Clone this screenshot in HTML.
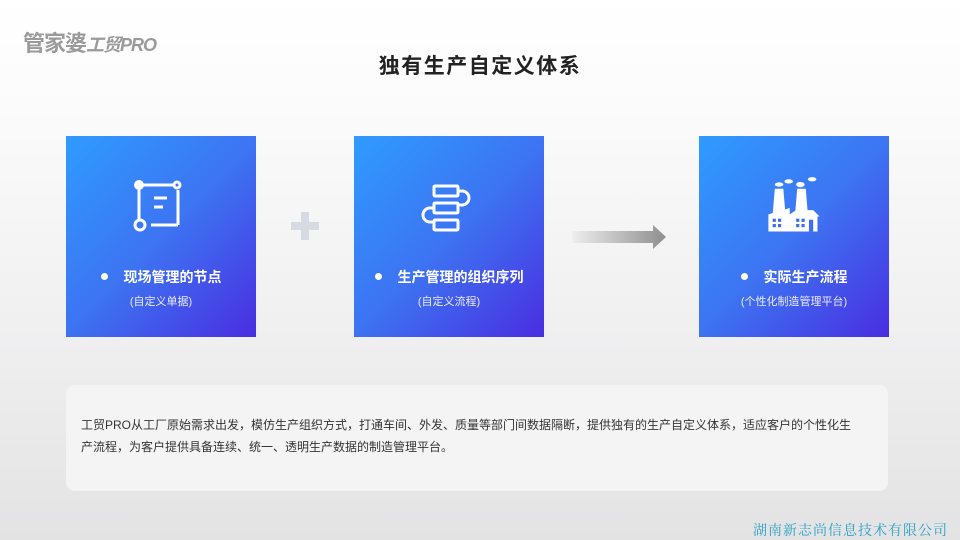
<!DOCTYPE html>
<html><head><meta charset="utf-8"><style>
*{margin:0;padding:0;box-sizing:border-box}
body{width:960px;height:540px;overflow:hidden;position:relative;font-family:"Liberation Sans","Noto Sans CJK SC",sans-serif;background:linear-gradient(180deg,#ffffff 0%,#fbfbfb 20%,#f0f0f1 60%,#e3e3e4 100%)}
.logo{position:absolute;left:23px;top:26px;color:#9a9a9a;font-weight:bold;font-size:22px;letter-spacing:-1px}
.logo i{font-size:18px;font-style:italic}
.title{position:absolute;left:0;width:960px;top:50px;text-align:center;font-size:21px;font-weight:bold;color:#222;letter-spacing:1.5px}
.box{position:absolute;top:136px;width:190px;height:201px;background:linear-gradient(135deg,#2f9bff 0%,#3d74f2 50%,#4a2de0 100%);color:#fff;text-align:center}
.box svg{position:absolute;left:50%;transform:translateX(-50%);top:40px}
.h{position:absolute;left:0;right:0;top:131px;font-size:14px;font-weight:bold}
.h:before{content:"";display:inline-block;width:7px;height:7px;border-radius:50%;background:#fff;margin-right:16px;vertical-align:middle;position:relative;top:-2px}
.s{position:absolute;left:0;right:0;top:157px;font-size:11px;color:#e8ecff}
.panel{position:absolute;left:66px;top:385px;width:822px;height:106px;background:#f4f4f5;border-radius:9px;padding:29px 26px 29px 15px;font-size:12px;line-height:22px;color:#333}
.foot{position:absolute;right:12px;top:520px;font-size:14px;color:#2aa0c8;font-family:"Noto Serif CJK SC",serif;letter-spacing:1px}
</style></head><body>
<div class="logo">管家婆<i>工贸PRO</i></div>
<div class="title">独有生产自定义体系</div>

<div class="box" style="left:66px">
<svg width="60" height="60" viewBox="0 0 60 60"><g fill="none" stroke="#fff" stroke-width="3"><line x1="8" y1="9" x2="8" y2="43"/><line x1="8" y1="9" x2="42" y2="9"/><line x1="47" y1="14" x2="47" y2="49"/><line x1="20" y1="49" x2="47" y2="49"/><circle cx="46" cy="9" r="3"/><circle cx="9" cy="49" r="5"/><line x1="23" y1="22" x2="36" y2="22"/><line x1="23" y1="31" x2="32" y2="31"/></g><circle cx="8" cy="9" r="5" fill="#fff"/></svg>
<div class="h">现场管理的节点</div><div class="s">(自定义单据)</div></div>

<div style="position:absolute;left:291px;top:222px;width:28px;height:8px;background:#d6dbe3"></div>
<div style="position:absolute;left:301px;top:212px;width:8px;height:28px;background:#d6dbe3"></div>

<div class="box" style="left:354px">
<svg width="60" height="60" viewBox="0 0 60 60"><g fill="none" stroke="#fff" stroke-width="3"><rect x="15" y="10" width="24" height="10" rx="1"/><rect x="15" y="27" width="24" height="10" rx="1"/><rect x="15" y="44" width="24" height="10" rx="1"/><path d="M39 15 H43 a7 7 0 0 1 0 14 H39"/><path d="M15 32 H11 a7 7 0 0 0 0 14 H15"/></g></svg>
<div class="h">生产管理的组织序列</div><div class="s">(自定义流程)</div></div>

<svg style="position:absolute;left:571px;top:225px" width="96" height="24"><defs><linearGradient id="g"><stop offset="0" stop-color="#eeeeee"/><stop offset="1" stop-color="#8e8e8e"/></linearGradient></defs><path d="M1 6 H82 V0 L95 12 L82 24 V18 H1 Z" fill="url(#g)"/></svg>

<div class="box" style="left:699px">
<svg width="64" height="64" viewBox="0 0 60 60" style="top:40px"><g fill="#fff"><ellipse cx="16" cy="8" rx="4" ry="2"/><ellipse cx="25" cy="5" rx="4" ry="2"/><ellipse cx="36" cy="8" rx="4" ry="2.5"/><ellipse cx="47" cy="3" rx="4" ry="2"/><path d="M12 12 H20 L22 36 H10 Z"/><path d="M33 12 H41 L43 36 H31 Z"/><path d="M6 36 L26 30 V36 L32 32 H48 L54 38 H52 V52 H6 Z"/></g><g fill="#3f6ff0"><rect x="10" y="40" width="3" height="3"/><rect x="15" y="40" width="3" height="3"/><rect x="10" y="45" width="3" height="3"/><rect x="15" y="45" width="3" height="3"/><rect x="32" y="40" width="3" height="3"/><rect x="37" y="40" width="3" height="3"/><rect x="32" y="45" width="3" height="3"/><rect x="37" y="45" width="3" height="3"/><rect x="44" y="41" width="4" height="11"/></g></svg>
<div class="h">实际生产流程</div><div class="s">(个性化制造管理平台)</div></div>

<div class="panel">工贸PRO从工厂原始需求出发，模仿生产组织方式，打通车间、外发、质量等部门间数据隔断，提供独有的生产自定义体系，适应客户的个性化生<br>产流程，为客户提供具备连续、统一、透明生产数据的制造管理平台。</div>
<div class="foot">湖南新志尚信息技术有限公司</div>
</body></html>
